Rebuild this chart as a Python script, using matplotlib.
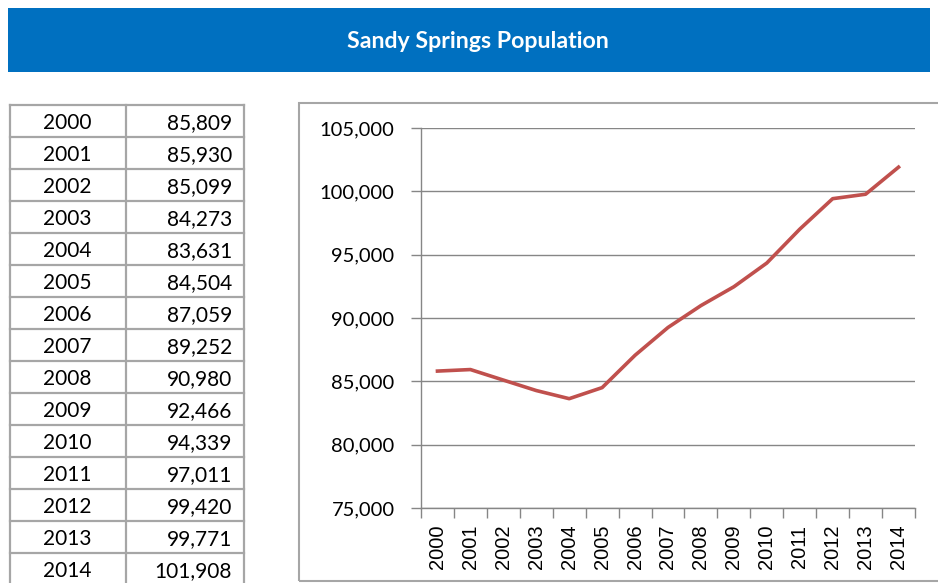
import numpy as np
import matplotlib
matplotlib.use("Agg")
from matplotlib import pyplot as plt
from matplotlib.patches import Rectangle
from matplotlib.lines import Line2D

# data
years = ["2000", "2001", "2002", "2003", "2004", "2005", "2006", "2007",
         "2008", "2009", "2010", "2011", "2012", "2013", "2014"]
population = [85809, 85930, 85099, 84273, 83631, 84504, 87059, 89252,
              90980, 92466, 94339, 97011, 99420, 99771, 101908]
y_ticks = [75000, 80000, 85000, 90000, 95000, 100000, 105000]
title = "Sandy Springs Population"

W, H = 938, 583
fig = plt.figure(figsize=(W / 100, H / 100), dpi=100)

def fx(px):
    return px / W

def fy(py):
    return 1 - py / H

grey = "#a6a6a6"

# header band
fig.add_artist(Rectangle((fx(8), fy(72)), fx(922), 64 / H, transform=fig.transFigure,
                         facecolor="#0070c0", edgecolor="none"))
fig.text(fx(478), fy(42), title, color="white", fontsize=16.7, fontweight="bold",
         family="Lato", ha="center", va="center")

# table on the left
row_h = 32
top = 105
left, mid, right = 10, 126, 244
n = len(years)
for k in range(n + 1):
    yy = top + k * row_h
    fig.add_artist(Line2D([fx(left), fx(right)], [fy(yy), fy(yy)], transform=fig.transFigure,
                          color=grey, lw=1.6))
for xx in (left, mid, right):
    fig.add_artist(Line2D([fx(xx), fx(xx)], [fy(top), fy(top + n * row_h)],
                          transform=fig.transFigure, color=grey, lw=1.6))
for k, (yr, val) in enumerate(zip(years, population)):
    yc = top + k * row_h + row_h / 2 + 2
    fig.text(fx(67), fy(yc), yr, fontsize=15, family="Lato", ha="center", va="center")
    fig.text(fx(232), fy(yc), f"{val:,}", fontsize=15, family="Lato", ha="right", va="center")

# chart box
fig.add_artist(Rectangle((fx(299), fy(581)), fx(700), (581 - 103) / H, transform=fig.transFigure,
                         facecolor="none", edgecolor=grey, lw=1.5))

# line chart
ax = fig.add_axes([fx(421), fy(508), fx(915 - 421), (508 - 128) / H])
x = np.arange(n)
ax.plot(x, population, color="#c0504d", lw=2.6, solid_joinstyle="round")
ax.set_xlim(-0.5, n - 0.5)
ax.set_ylim(y_ticks[0], y_ticks[-1])
ax.set_yticks(y_ticks)
ax.set_yticklabels([f"{v:,}" for v in y_ticks], fontsize=14.5, family="Lato")
ax.set_xticks(x)
ax.set_xticklabels(years, rotation=90, fontsize=14.5, family="Liberation Sans")
ax.set_xticks(np.arange(-0.5, n, 1), minor=True)
ax.tick_params(axis="x", which="major", length=0, pad=12)
ax.tick_params(axis="x", which="minor", length=7, color="#868686", width=1)
ax.tick_params(axis="y", length=7, color="#868686", width=1, pad=12)
ax.grid(axis="y", color="#868686", lw=1)
ax.set_axisbelow(True)
for s in ("top", "right"):
    ax.spines[s].set_visible(False)
for s in ("left", "bottom"):
    ax.spines[s].set_color("#868686")
    ax.spines[s].set_linewidth(1)

fig.savefig("out.png", dpi=100)
